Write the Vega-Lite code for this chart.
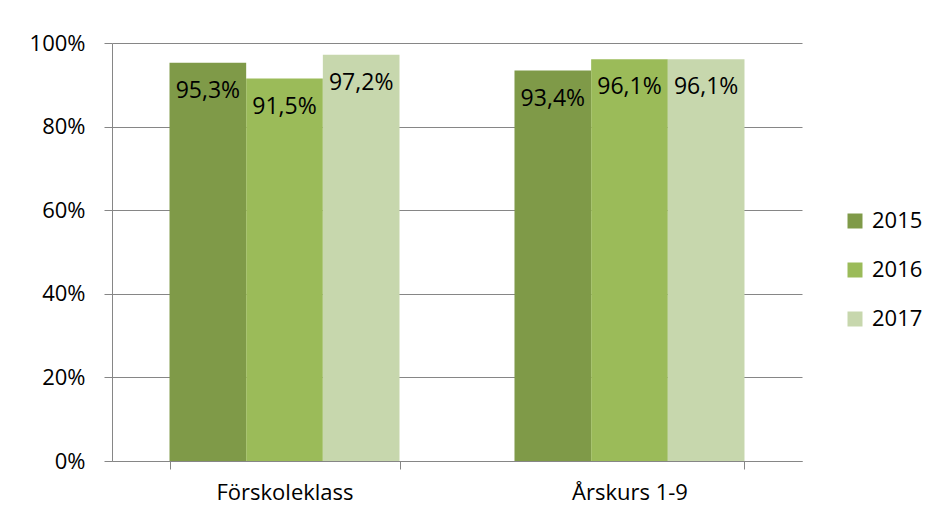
{
  "$schema": "https://vega.github.io/schema/vega-lite/v6.json",
  "width": 690,
  "height": 418,
  "autosize": {"type": "none"},
  "padding": {"left": 112, "top": 43, "right": 132, "bottom": 60},
  "background": "white",
  "config": {
    "locale": {"number": {"decimal": ",", "thousands": "\u00a0", "grouping": [3], "currency": ["", "\u00a0kr"]}},
    "view": {"stroke": null},
    "font": "Open Sans"
  },
  "data": {
    "values": [
      {"cat": "Förskoleklass", "year": "2015", "value": 0.953},
      {"cat": "Förskoleklass", "year": "2016", "value": 0.915},
      {"cat": "Förskoleklass", "year": "2017", "value": 0.972},
      {"cat": "Årskurs 1-9", "year": "2015", "value": 0.934},
      {"cat": "Årskurs 1-9", "year": "2016", "value": 0.961},
      {"cat": "Årskurs 1-9", "year": "2017", "value": 0.961}
    ]
  },
  "encoding": {
    "x": {
      "field": "cat", "type": "nominal", "sort": ["Förskoleklass", "Årskurs 1-9"],
      "scale": {"paddingInner": 0.3333, "paddingOuter": 0.1667},
      "axis": {"title": null, "labelAngle": 0, "tickBand": "extent", "domainColor": "#868686", "tickColor": "#868686", "tickSize": 8, "labelFontSize": 22, "labelColor": "#000000", "labelPadding": 13, "grid": false}
    },
    "xOffset": {"field": "year", "type": "nominal", "scale": {"paddingInner": 0, "paddingOuter": 0}},
    "y": {
      "field": "value", "type": "quantitative",
      "scale": {"domain": [0, 1]},
      "axis": {"title": null, "values": [0, 0.2, 0.4, 0.6, 0.8, 1], "format": ".0%", "grid": true, "gridColor": "#868686", "domainColor": "#868686", "tickColor": "#868686", "tickSize": 8, "labelPadding": 19, "labelFontSize": 22, "labelColor": "#000000"}
    }
  },
  "layer": [
    {
      "mark": {"type": "bar"},
      "encoding": {
        "color": {
          "field": "year", "type": "nominal",
          "scale": {"domain": ["2015", "2016", "2017"], "range": ["#7f9a48", "#9bbb59", "#c7d7ad"]},
          "legend": {"title": null, "orient": "none", "legendX": 732, "legendY": 167, "symbolType": "square", "symbolSize": 225, "symbolStrokeWidth": 0, "labelFontSize": 22, "labelColor": "#000000", "rowPadding": 27, "labelOffset": 6, "padding": 0}
        }
      }
    },
    {
      "mark": {"type": "text", "baseline": "middle", "dy": 28, "fontSize": 23, "color": "#000000"},
      "encoding": {"text": {"field": "value", "type": "quantitative", "format": ".1%"}}
    }
  ]
}
